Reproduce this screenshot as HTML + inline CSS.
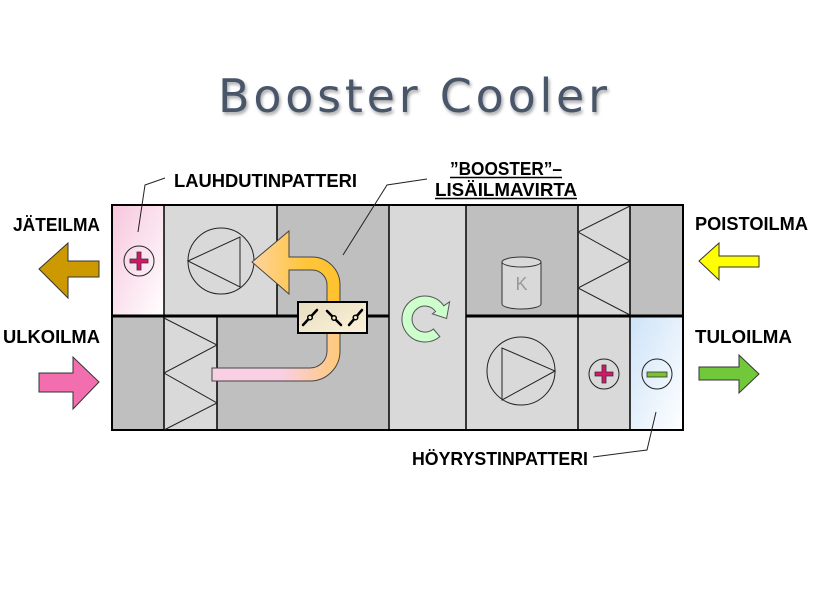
<!DOCTYPE html>
<html><head><meta charset="utf-8"><style>
html,body{margin:0;padding:0;background:#fff;}
svg{display:block;}
.lbl{font-family:"Liberation Sans",Arial,sans-serif;font-weight:bold;font-size:18px;fill:#000;}
</style></head><body>
<svg width="814" height="600" viewBox="0 0 814 600" xmlns="http://www.w3.org/2000/svg">
<defs>
<linearGradient id="pinkg" x1="0" y1="0" x2="1" y2="1">
<stop offset="0" stop-color="#f7c6dd"/><stop offset="1" stop-color="#ffffff"/>
</linearGradient>
<linearGradient id="blueg" x1="0" y1="0" x2="1" y2="1">
<stop offset="0" stop-color="#cde3f8"/><stop offset="1" stop-color="#ffffff"/>
</linearGradient>
<linearGradient id="topArr" x1="252" y1="0" x2="340" y2="0" gradientUnits="userSpaceOnUse">
<stop offset="0" stop-color="#ffd3a0"/><stop offset="0.6" stop-color="#ffc53c"/><stop offset="1" stop-color="#ffc22e"/>
</linearGradient>
<linearGradient id="botDuct" x1="212" y1="0" x2="340" y2="0" gradientUnits="userSpaceOnUse">
<stop offset="0" stop-color="#f9cfe3"/><stop offset="0.55" stop-color="#f9cfe3"/><stop offset="1" stop-color="#ffc978"/>
</linearGradient>
<linearGradient id="damp" x1="0" y1="0" x2="1" y2="1">
<stop offset="0" stop-color="#e6dcc0"/><stop offset="1" stop-color="#fdf3da"/>
</linearGradient>
<filter id="sh" x="-5%" y="-20%" width="110%" height="150%">
<feGaussianBlur in="SourceAlpha" stdDeviation="1.5"/>
<feOffset dx="1.5" dy="2.5" result="b"/>
<feComponentTransfer><feFuncA type="linear" slope="0.35"/></feComponentTransfer>
<feMerge><feMergeNode/><feMergeNode in="SourceGraphic"/></feMerge>
</filter>
</defs>

<!-- Title -->
<text x="218" y="112" font-family="'DejaVu Sans',sans-serif" font-size="46" fill="#485568" textLength="389" lengthAdjust="spacing" filter="url(#sh)">Booster Cooler</text>

<!-- Cells -->
<rect x="112" y="205" width="52" height="111" fill="url(#pinkg)"/>
<rect x="164" y="205" width="113" height="111" fill="#d9d9d9"/>
<rect x="277" y="205" width="112" height="111" fill="#bfbfbf"/>
<rect x="389" y="205" width="77" height="225" fill="#d9d9d9"/>
<rect x="466" y="205" width="112" height="111" fill="#bfbfbf"/>
<rect x="578" y="205" width="52" height="111" fill="#d9d9d9"/>
<rect x="630" y="205" width="53" height="111" fill="#bfbfbf"/>
<rect x="112" y="316" width="52" height="114" fill="#bfbfbf"/>
<rect x="164" y="316" width="53" height="114" fill="#d9d9d9"/>
<rect x="217" y="316" width="172" height="114" fill="#bfbfbf"/>
<rect x="466" y="316" width="112" height="114" fill="#d9d9d9"/>
<rect x="578" y="316" width="52" height="114" fill="#d9d9d9"/>
<rect x="630" y="316" width="53" height="114" fill="url(#blueg)"/>

<!-- Dividers -->
<g stroke="#000" stroke-width="1.5">
<line x1="164" y1="205" x2="164" y2="430"/>
<line x1="277" y1="205" x2="277" y2="316"/>
<line x1="217" y1="316" x2="217" y2="430"/>
<line x1="389" y1="205" x2="389" y2="430"/>
<line x1="466" y1="205" x2="466" y2="430"/>
<line x1="578" y1="205" x2="578" y2="430"/>
<line x1="630" y1="205" x2="630" y2="430"/>
</g>
<g stroke="#000" stroke-width="3">
<line x1="112" y1="316" x2="389" y2="316"/>
<line x1="466" y1="316" x2="683" y2="316"/>
</g>
<rect x="112" y="205" width="571" height="225" fill="none" stroke="#000" stroke-width="2"/>

<!-- Zigzag filters -->
<polyline points="630,206 578,232 630,261 578,288 630,315" fill="none" stroke="#222" stroke-width="1"/>
<polyline points="164,318 217,345 164,373 217,403 164,430" fill="none" stroke="#222" stroke-width="1"/>

<!-- Fans -->
<circle cx="221" cy="261" r="33" fill="none" stroke="#222" stroke-width="1"/>
<polygon points="188,261 240,237 240,287" fill="none" stroke="#222" stroke-width="1"/>
<circle cx="521" cy="371" r="34" fill="none" stroke="#222" stroke-width="1"/>
<polygon points="502,348 502,400 555,371" fill="none" stroke="#222" stroke-width="1"/>

<!-- Plus / minus coils -->
<circle cx="139" cy="261" r="15" fill="none" stroke="#222" stroke-width="1"/>
<path d="M137 252 h4 v7 h7 v4 h-7 v7 h-4 v-7 h-7 v-4 h7 z" fill="#d4176c" stroke="#333" stroke-width="0.8"/>
<circle cx="604" cy="374" r="15" fill="none" stroke="#222" stroke-width="1"/>
<path d="M602 365 h4 v7 h7 v4 h-7 v7 h-4 v-7 h-7 v-4 h7 z" fill="#d4176c" stroke="#333" stroke-width="0.8"/>
<circle cx="657" cy="374" r="15" fill="none" stroke="#222" stroke-width="1"/>
<rect x="647" y="372" width="20" height="5" fill="#7cc033" stroke="#333" stroke-width="0.8"/>

<!-- Compressor cylinder -->
<path d="M502 262 L502 304 A19.5 5 0 0 0 541 304 L541 262" fill="#d9d9d9" stroke="#333" stroke-width="1"/>
<ellipse cx="521.5" cy="262" rx="19.5" ry="5" fill="#d9d9d9" stroke="#333" stroke-width="1"/>
<text x="521.5" y="290" text-anchor="middle" font-family="'Liberation Sans',Arial,sans-serif" font-size="18" fill="#999">K</text>

<!-- Rotating heat exchanger arrow -->
<path d="M433.4 329 A13 13 0 1 1 435.6 311.5 L432.4 313.8 L446.6 318.5 L449.6 301.8 L443.8 305.8 A23 23 0 1 0 439.8 336.6 Z" fill="#ccffcc" stroke="#555" stroke-width="1"/>

<!-- Booster ducts -->
<path d="M252 262 L289 231 L289 257 L312 257 A28 28 0 0 1 340 285 L340 303 L327 303 L327 285 A15 15 0 0 0 312 270 L289 270 L289 294 Z" fill="url(#topArr)" stroke="#444" stroke-width="1"/>
<path d="M327 332 L340 332 L340 351 A30 30 0 0 1 310 381 L212 381 L212 368 L310 368 A17 17 0 0 0 327 351 Z" fill="url(#botDuct)" stroke="#444" stroke-width="1"/>

<!-- Damper -->
<rect x="298" y="302" width="69" height="31" fill="url(#damp)" stroke="#000" stroke-width="2"/>
<g stroke="#000" stroke-width="2.5" stroke-linecap="round">
<line x1="303" y1="325" x2="317" y2="310"/>
<line x1="327" y1="311" x2="341" y2="325"/>
<line x1="349" y1="325" x2="362" y2="310"/>
</g>
<g fill="#f3ead0" stroke="#000" stroke-width="1.5">
<circle cx="310" cy="317.5" r="2.3"/>
<circle cx="334" cy="318" r="2.3"/>
<circle cx="355.5" cy="317.5" r="2.3"/>
</g>

<!-- Side arrows -->
<polygon points="39,269 68,243 68,261 99,261 99,277 68,277 68,298" fill="#cc9900" stroke="#333" stroke-width="1"/>
<polygon points="39,373 73,373 73,357 99,382 73,409 73,392 39,392" fill="#f26eae" stroke="#333" stroke-width="1"/>
<polygon points="699,261 719,243 719,256 759,256 759,267 719,267 719,280" fill="#ffff00" stroke="#333" stroke-width="1"/>
<polygon points="699,367 739,367 739,355 759,374 739,393 739,380 699,380" fill="#70c83a" stroke="#333" stroke-width="1"/>

<!-- Leader lines -->
<g fill="none" stroke="#222" stroke-width="1">
<polyline points="165,178 145,185 138,232"/>
<polyline points="427,179 387,185 343,255"/>
<polyline points="593,457 647,450 656,412"/>
</g>

<!-- Labels -->
<text class="lbl" x="174" y="187" textLength="183" lengthAdjust="spacingAndGlyphs">LAUHDUTINPATTERI</text>
<text class="lbl" x="13" y="231" textLength="87" lengthAdjust="spacingAndGlyphs">JÄTEILMA</text>
<text class="lbl" x="3" y="343" textLength="97" lengthAdjust="spacingAndGlyphs">ULKOILMA</text>
<text class="lbl" x="695" y="230" textLength="113" lengthAdjust="spacingAndGlyphs">POISTOILMA</text>
<text class="lbl" x="695" y="343" textLength="97" lengthAdjust="spacingAndGlyphs">TULOILMA</text>
<text class="lbl" x="450" y="175" textLength="112" lengthAdjust="spacingAndGlyphs">”BOOSTER”–</text>
<text class="lbl" x="435" y="196" textLength="142" lengthAdjust="spacingAndGlyphs">LISÄILMAVIRTA</text>
<text class="lbl" x="412" y="465" textLength="176" lengthAdjust="spacingAndGlyphs">HÖYRYSTINPATTERI</text>
<g stroke="#000" stroke-width="1.5">
<line x1="450" y1="177.5" x2="562" y2="177.5"/>
<line x1="435" y1="198.5" x2="577" y2="198.5"/>
</g>
</svg>
</body></html>
